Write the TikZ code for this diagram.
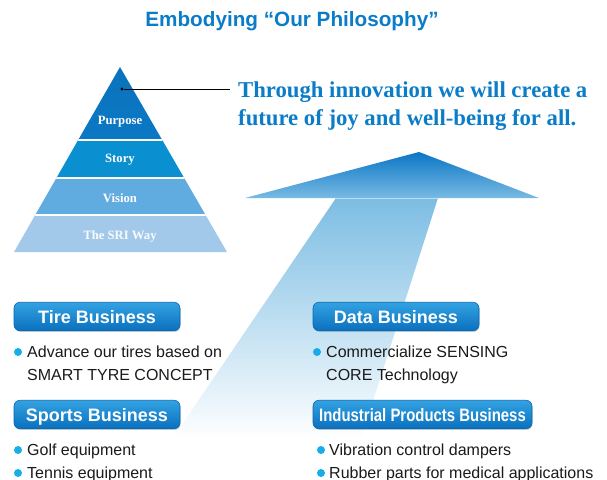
\documentclass[tikz,border=0pt]{standalone}
\usepackage{fontspec}
\setmainfont{Liberation Serif}
\setsansfont{Liberation Sans}
\newfontfamily\arialfont{Liberation Sans}
\newfontfamily\narrowfont[FakeStretch=0.83]{Liberation Sans}
\usetikzlibrary{shadows}

\definecolor{sriblue}{HTML}{0A7CC8}
\definecolor{headtop}{HTML}{0A76C5}
\definecolor{headbase}{HTML}{78BAE3}
\definecolor{shafttop}{HTML}{7CBDE3}
\definecolor{layerA}{HTML}{0B78C5}
\definecolor{layerB}{HTML}{0A8FD1}
\definecolor{layerC}{HTML}{60ABDF}
\definecolor{layerD}{HTML}{A3C9EA}
\definecolor{labeltop}{HTML}{33A2E2}
\definecolor{labelbot}{HTML}{0A70BE}
\definecolor{labeledge}{HTML}{0A68B0}
\definecolor{bulletcyan}{HTML}{17AEE8}
\definecolor{bodytext}{HTML}{1A1A1A}

% shaft of the big arrow: the path's box spans 25bp (foot) to 75bp (head);
% white over the lowest part, then rising to blue at the head
\pgfdeclareverticalshading{shaftfade}{100bp}{color(0bp)=(white); color(32bp)=(white); color(75bp)=(shafttop); color(100bp)=(shafttop)}

\tikzset{
  bizlabel/.style={rounded corners=6pt, draw=labeledge, line width=0.6pt,
    top color=labeltop, bottom color=labelbot,
    drop shadow={shadow xshift=0.6pt, shadow yshift=-1.2pt, opacity=0.35},
    text=white, font=\arialfont\bfseries\fontsize{18}{20}\selectfont,
    text height=13pt, text depth=0pt, inner xsep=0pt, inner ysep=7.75pt,
    minimum height=28.5pt},
  bullet/.style={circle, fill=bulletcyan, inner sep=0pt, minimum size=8pt},
  bodyline/.style={anchor=base west, inner sep=0pt, text=bodytext,
    font=\arialfont\fontsize{16}{18}\selectfont},
  layertext/.style={text=white, font=\bfseries\fontsize{12.7}{14}\selectfont, inner sep=0pt},
  mottoline/.style={anchor=base west, inner sep=0pt, text=sriblue,
    font=\bfseries\fontsize{22.7}{26}\selectfont},
}

\begin{document}
\begin{tikzpicture}[x=1pt, y=-1pt]
\useasboundingbox (0,0) rectangle (607,479);

% ---------- title ----------
\node[anchor=base, inner sep=0pt, text=sriblue,
      font=\arialfont\bfseries\fontsize{20.7}{24}\selectfont]
  (title) at (292,27) {Embodying “Our Philosophy”};

% ---------- big arrow ----------
\shade[shading=shaftfade] (336,198) -- (438,198) -- (348,479) -- (145,479) -- cycle;
\shade[top color=headtop, bottom color=headbase]
  (245,198) -- (419,152) -- (539,198) -- cycle;
\draw[white, opacity=0.5, line width=0.6pt] (336,198.3) -- (438,198.3);

% ---------- pyramid ----------
\begin{scope}
  \clip (120,67) -- (227,252) -- (14,252) -- cycle;
  \shade[top color=layerA!95!black, bottom color=layerA] (0,60) rectangle (240,140);
  \fill[layerB] (0,140) rectangle (240,178);
  \fill[layerC] (0,178) rectangle (240,215);
  \fill[layerD] (0,215) rectangle (240,253);
  \draw[white, line width=1.2pt] (0,140) -- (240,140);
  \draw[white, line width=1.2pt] (0,178) -- (240,178);
  \draw[white, line width=1.2pt] (0,215) -- (240,215);
\end{scope}
\node[layertext] (purpose) at (120,122) {Purpose};
\node[layertext] (story)   at (120,160) {Story};
\node[layertext] (vision)  at (120,198) {Vision};
\node[layertext, text=white!92!layerD] (sriway) at (120,236) {The SRI Way};

% ---------- motto with pointer ----------
\node[circle, fill=black, inner sep=0pt, minimum size=3.4pt] (tip) at (122,89) {};
\coordinate (tipend) at (230,89);
\draw[black, line width=0.8pt] (tip) -- (tipend);
\node[mottoline] (motto1) at (238,97) {Through innovation we will create a};
\node[mottoline] (motto2) at (238,125) {future of joy and well-being for all.};

% ---------- business labels ----------
\node[bizlabel, minimum width=166pt] (tire)   at (97,316.5)  {Tire Business};
\node[bizlabel, minimum width=166pt] (data)   at (396,316.5) {Data Business};
\node[bizlabel, minimum width=166pt] (sports) at (97,414.5)  {Sports Business};
\node[bizlabel, minimum width=219pt,
      font=\narrowfont\bfseries\fontsize{18}{20}\selectfont] (industrial) at (422.5,414.5)
  {Industrial Products Business};

% ---------- bullet items ----------
\node[bullet] (b1) at (18,352) {};
\node[bodyline] (t1a) at (27,357) {Advance our tires based on};
\node[bodyline] (t1b) at (27,380) {SMART TYRE CONCEPT};

\node[bullet] (b2) at (317,352) {};
\node[bodyline] (t2a) at (326,357) {Commercialize SENSING};
\node[bodyline] (t2b) at (326,380) {CORE Technology};

\node[bullet] (b3) at (18,450) {};
\node[bodyline] (t3a) at (27,455) {Golf equipment};
\node[bullet] (b4) at (18,473) {};
\node[bodyline] (t4a) at (27,478) {Tennis equipment};

\node[bullet] (b5) at (321,450) {};
\node[bodyline] (t5a) at (329,455) {Vibration control dampers};
\node[bullet] (b6) at (321,473) {};
\node[bodyline] (t6a) at (329,478) {Rubber parts for medical applications};
\end{tikzpicture}
\end{document}
